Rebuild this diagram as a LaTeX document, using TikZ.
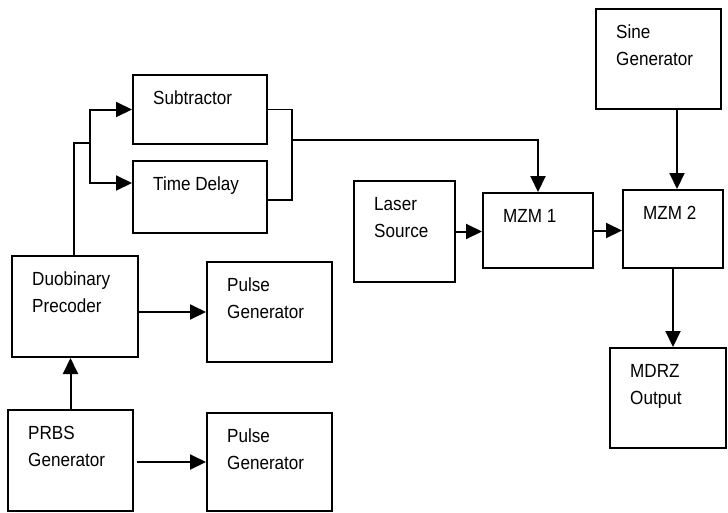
\documentclass[tikz,border=0pt]{standalone}
\usepackage{fontspec}
\setmainfont{Liberation Sans}[FakeStretch=0.9]
\usetikzlibrary{arrows.meta}
\tikzset{
  blk/.style={draw, line width=2pt, inner sep=0pt, anchor=north west},
  lbl/.style={anchor=north west, inner sep=0pt, align=left, font=\fontsize{19pt}{27pt}\selectfont},
  arr/.style={line width=2pt, -{Triangle[length=16pt,width=15pt]}},
  forkline/.style={line width=1.4pt},
}
\newcommand\mkblk[6]{%
  \node[blk, minimum width={(#4-#2)*1pt}, minimum height={(#5-#3)*1pt}] (#1) at (#2,#3) {};
  \node[lbl] (#1t) at (#2+21,#3+17) {#6};
}
\begin{document}
\begin{tikzpicture}[x=1pt,y=-1pt]
\path[use as bounding box, fill=white] (0,0) rectangle (728,512);
\mkblk{sub}{132}{74}{266}{143}{Subtractor}
\mkblk{td}{132}{160}{266}{232}{Time Delay}
\mkblk{duo}{11}{255}{137}{356}{Duobinary\\Precoder}
\mkblk{pga}{206}{261}{331}{361}{Pulse\\Generator}
\mkblk{prbs}{7}{409}{132}{510}{PRBS\\Generator}
\mkblk{pgb}{206}{412}{331}{510}{Pulse\\Generator}
\mkblk{laser}{353}{180}{454}{281}{Laser\\Source}
\mkblk{mzma}{482}{192}{592}{267}{MZM 1}
\mkblk{sine}{595}{8}{720}{108}{Sine\\Generator}
\mkblk{mzmb}{622}{189}{722}{267}{MZM 2}
\mkblk{mdrz}{609}{347}{725}{447}{MDRZ\\Output}
% fork into subtractor / time delay
\coordinate (f0) at (74,143);
\coordinate (f1) at (90,143);
\coordinate (tdin) at (132,183);
\draw[forkline] (duo.north -| f0) -- (f0) -- (f1);
\draw[arr] (f1) |- (sub.west);
\draw[arr] (f1) |- (tdin);
% join of subtractor / time delay
\coordinate (j) at (292,140);
\coordinate (tdout) at (266,200);
\draw[forkline] (sub.east) -| (j) |- (tdout);
\draw[arr] (j) -| (mzma.north);
% optical chain
\draw[arr] (laser.east) -- (laser.east -| mzma.west);
\draw[arr] (mzma.east) -- (mzma.east -| mzmb.west);
\draw[arr] ([xshift=4pt]sine.south -| mzmb.north) -- ([xshift=4pt]mzmb.north);
\draw[arr] (mzmb.south) -- (mzmb.south |- mdrz.north);
% electrical side
\draw[arr] (duo.east |- pga.west) -- (pga.west);
\draw[arr] (prbs.north) -- (prbs.north |- duo.south);
\draw[arr, shorten <=3pt] (prbs.east |- pgb.west) -- (pgb.west);
\end{tikzpicture}
\end{document}
